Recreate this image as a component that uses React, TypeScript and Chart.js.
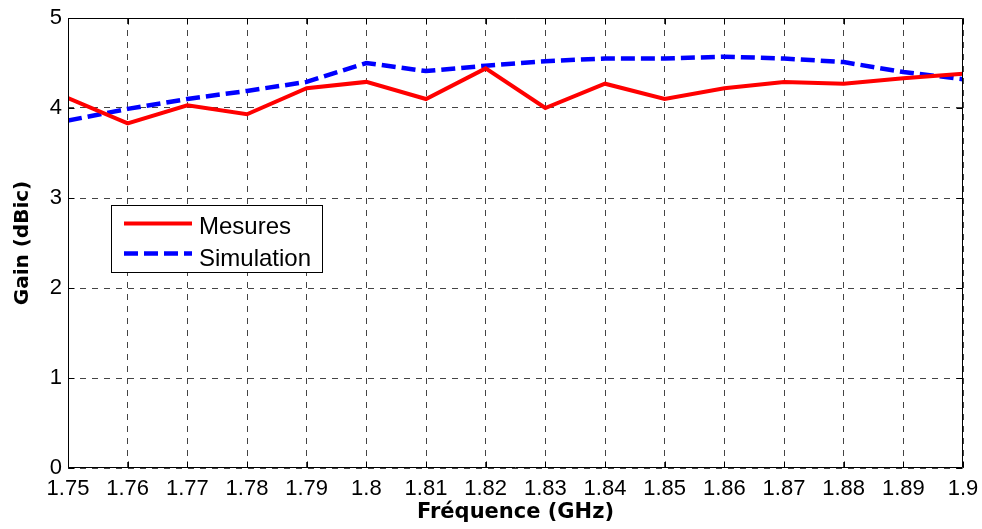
import React, { useEffect, useRef } from 'react';
import { Chart, registerables } from 'chart.js';

Chart.register(...registerables);

const frequencies = [1.75, 1.76, 1.77, 1.78, 1.79, 1.8, 1.81, 1.82, 1.83, 1.84, 1.85, 1.86, 1.87, 1.88, 1.89, 1.9];
const mesures = [4.11, 3.83, 4.03, 3.93, 4.22, 4.29, 4.1, 4.44, 4.0, 4.27, 4.1, 4.22, 4.29, 4.27, 4.33, 4.38];
const simulation = [3.86, 3.99, 4.1, 4.19, 4.29, 4.5, 4.41, 4.47, 4.52, 4.55, 4.55, 4.57, 4.55, 4.51, 4.4, 4.32];
const xTicks = [1.75, 1.76, 1.77, 1.78, 1.79, 1.8, 1.81, 1.82, 1.83, 1.84, 1.85, 1.86, 1.87, 1.88, 1.89, 1.9];
const xTickLabels = ['1.75', '1.76', '1.77', '1.78', '1.79', '1.8', '1.81', '1.82', '1.83', '1.84', '1.85', '1.86', '1.87', '1.88', '1.89', '1.9'];
const yTicks = [0, 1, 2, 3, 4, 5];
const yTickLabels = ['0', '1', '2', '3', '4', '5'];
const seriesLabels = ['Mesures', 'Simulation'];
const xTitle = 'Fréquence (GHz)';
const yTitle = 'Gain (dBic)';

const tickFont = { family: '"Liberation Sans", Arial, sans-serif', size: 22 };
const titleFont = { family: '"DejaVu Sans", sans-serif', size: 21, weight: 'bold' as const };

const framePlugin = {
  id: 'matlabFrame',
  afterDatasetsDraw(chart: any) {
    const { ctx, chartArea: a, scales } = chart;
    ctx.save();
    ctx.setLineDash([]);
    ctx.strokeStyle = '#000';
    ctx.lineWidth = 1;
    const L = Math.round(a.left) + 0.5;
    const R = Math.round(a.right) - 0.5;
    const T = Math.round(a.top) + 0.5;
    const B = Math.round(a.bottom) - 0.5;
    ctx.beginPath();
    ctx.rect(L, T, R - L, B - T);
    ctx.stroke();
    const tl = 6;
    ctx.beginPath();
    xTicks.forEach((v) => {
      const px = Math.round(scales.x.getPixelForValue(v)) + 0.5;
      ctx.moveTo(px, B);
      ctx.lineTo(px, B - tl);
      ctx.moveTo(px, T);
      ctx.lineTo(px, T + tl);
    });
    yTicks.forEach((v) => {
      const py = Math.round(scales.y.getPixelForValue(v)) + 0.5;
      ctx.moveTo(L, py);
      ctx.lineTo(L + tl, py);
      ctx.moveTo(R, py);
      ctx.lineTo(R - tl, py);
    });
    ctx.stroke();
    ctx.restore();
  },
  afterDraw(chart: any) {
    const { ctx } = chart;
    const ds = chart.data.datasets;
    ctx.save();
    ctx.setLineDash([]);
    ctx.fillStyle = '#fff';
    ctx.fillRect(111, 205, 212, 68);
    ctx.strokeStyle = '#000';
    ctx.lineWidth = 1;
    ctx.strokeRect(111.5, 205.5, 211, 67);
    const rows = [
      { lineY: 223.5, textY: 233.5 },
      { lineY: 253.5, textY: 265.5 },
    ];
    ds.forEach((d: any, i: number) => {
      const r = rows[i];
      ctx.beginPath();
      ctx.strokeStyle = d.borderColor;
      ctx.lineWidth = d.borderWidth;
      ctx.setLineDash(d.borderDash || []);
      ctx.moveTo(124, r.lineY);
      ctx.lineTo(192, r.lineY);
      ctx.stroke();
      ctx.setLineDash([]);
      ctx.fillStyle = '#000';
      ctx.font = '24px "Liberation Sans", Arial, sans-serif';
      ctx.textBaseline = 'alphabetic';
      ctx.textAlign = 'left';
      ctx.fillText(d.label, 199, r.textY);
    });
    ctx.restore();
  },
};

export default function App() {
  const canvasRef = useRef<HTMLCanvasElement | null>(null);

  useEffect(() => {
    document.body.style.margin = '0';
    const canvas = canvasRef.current;
    if (!canvas) return;
    const chart = new Chart(canvas, {
      type: 'line',
      data: {
        datasets: [
          {
            label: seriesLabels[0],
            data: frequencies.map((f, i) => ({ x: f, y: mesures[i] })),
            borderColor: '#ff0000',
            backgroundColor: '#ff0000',
            borderWidth: 4,
            pointRadius: 0,
            tension: 0,
            fill: false,
          },
          {
            label: seriesLabels[1],
            data: frequencies.map((f, i) => ({ x: f, y: simulation[i] })),
            borderColor: '#0000ff',
            backgroundColor: '#0000ff',
            borderWidth: 4.5,
            borderDash: [14, 6],
            pointRadius: 0,
            tension: 0,
            fill: false,
          },
        ],
      },
      options: {
        animation: false,
        responsive: false,
        devicePixelRatio: 1,
        layout: { padding: { top: 18, right: 19, left: 0, bottom: 0 } },
        plugins: {
          legend: { display: false },
          tooltip: { enabled: false },
        },
        scales: {
          x: {
            type: 'linear',
            min: 1.75,
            max: 1.9,
            afterBuildTicks: (s: any) => {
              s.ticks = xTicks.map((v) => ({ value: v }));
            },
            afterFit: (s: any) => {
              s.height = 61;
              s.paddingLeft = 0;
              s.paddingRight = 0;
            },
            ticks: {
              autoSkip: false,
              maxRotation: 0,
              minRotation: 0,
              padding: 8,
              color: '#000',
              font: tickFont,
              callback: (_v: any, i: number) => xTickLabels[i],
            },
            grid: { color: '#444', lineWidth: 1, drawTicks: false },
            border: { display: false, dash: [6, 6] },
            title: {
              display: true,
              text: xTitle,
              color: '#000',
              font: titleFont,
              padding: { top: 0, bottom: 4 },
            },
          },
          y: {
            type: 'linear',
            min: 0,
            max: 5,
            afterBuildTicks: (s: any) => {
              s.ticks = yTicks.map((v) => ({ value: v }));
            },
            afterFit: (s: any) => {
              s.width = 68;
              s.paddingTop = 0;
              s.paddingBottom = 0;
            },
            ticks: {
              padding: 6,
              color: '#000',
              font: tickFont,
              callback: (_v: any, i: number) => yTickLabels[i],
            },
            grid: { color: '#444', lineWidth: 1, drawTicks: false },
            border: { display: false, dash: [6, 6] },
            title: {
              display: true,
              text: yTitle,
              color: '#000',
              font: { ...titleFont, size: 20 },
              padding: { top: 11, bottom: 0 },
            },
          },
        },
      },
      plugins: [framePlugin],
    });
    return () => chart.destroy();
  }, []);

  return (
    <div style={{ width: 982, height: 529 }}>
      <canvas ref={canvasRef} width={982} height={529} style={{ display: 'block' }} />
    </div>
  );
}
